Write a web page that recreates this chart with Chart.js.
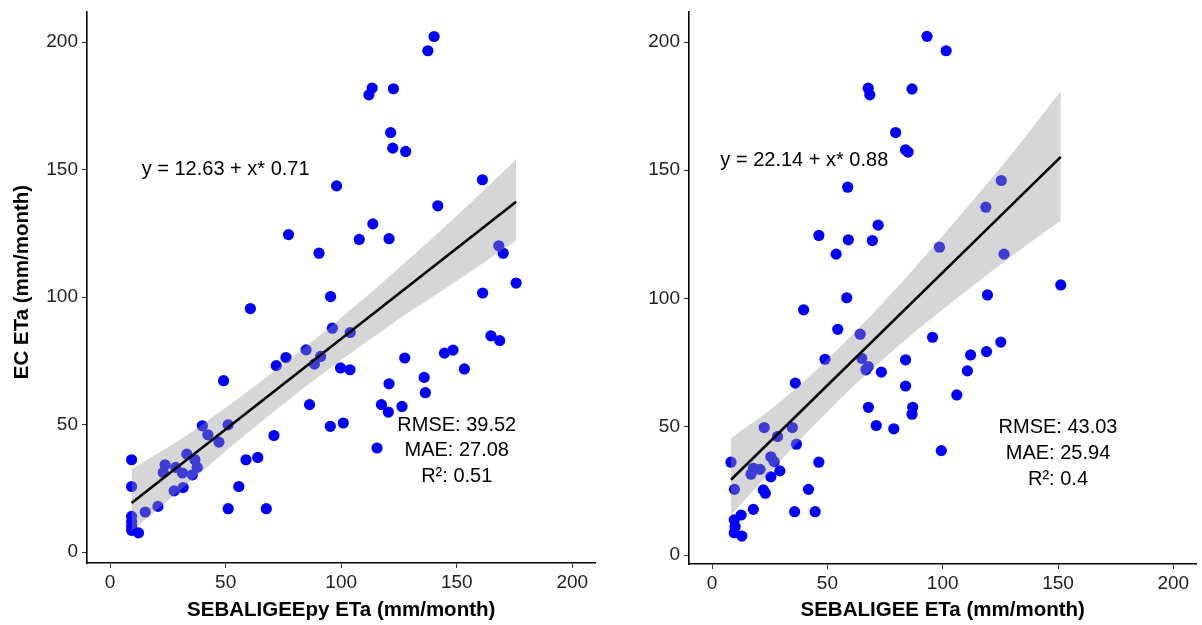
<!DOCTYPE html>
<html><head><meta charset="utf-8">
<script src="https://cdn.jsdelivr.net/npm/chart.js@4.4.1/dist/chart.umd.min.js"></script>
<style>
html,body{margin:0;padding:0;background:#fff;}
#wrapL{position:absolute;left:0;top:0;width:601px;height:625px;}
#wrapR{position:absolute;left:600px;top:0;width:602px;height:625px;}
</style></head><body>
<div id="wrapL"><canvas id="cL" width="601" height="625"></canvas></div>
<div id="wrapR"><canvas id="cR" width="602" height="625"></canvas></div>
<script>
// ---- data ----
const tickValues = [0, 50, 100, 150, 200];

// Left panel: SEBALIGEEpy ETa vs EC ETa
const leftX = [98.0,77.2,90.4,95.4,140.2,137.5,113.4,112.0,122.6,121.4,122.3,127.9,161.1,141.8,113.7,107.8,120.7,168.2,170.1,175.7,161.2,96.2,103.9,164.8,168.6,144.7,148.4,127.5,153.3,99.7,103.8,135.9,120.7,136.4,117.4,120.4,126.3,100.9,95.3,115.5,60.7,84.8,76.1,71.9,91.1,88.4,49.1,86.3,39.9,51.1,42.3,47.1,70.9,9.3,58.8,63.9,33.2,36.7,23.8,37.7,28.4,23.0,31.3,35.6,9.3,31.6,27.7,55.7,51.1,67.6,20.7,15.2,9.3,9.3,9.3,9.3,12.3];
const leftY = [143.6,124.5,117.2,100.2,202.2,196.6,182.0,179.3,181.7,164.5,158.4,157.1,146.0,135.8,128.7,122.6,122.9,120.1,117.2,105.5,101.6,87.8,86.1,84.8,82.9,78.0,79.2,76.1,71.8,72.2,71.5,68.5,66.0,62.5,57.8,54.9,57.1,50.6,49.3,40.8,95.5,79.3,76.3,73.1,76.7,73.7,67.2,57.8,49.5,49.9,46.0,43.1,45.7,36.2,36.2,37.1,38.4,36.2,34.2,33.2,33.2,31.2,31.0,30.3,25.7,25.3,24.0,25.7,17.0,17.0,17.9,15.7,14.0,12.0,10.0,8.5,7.5];
const leftFitX = [9.3, 175.7];
const leftFitY = [19.23, 137.38];
const leftBandX = [9.3, 30, 50, 75, 100, 125, 150, 175.7];
const leftBandUpper = [32.5, 43.9, 56.6, 73.7, 91.9, 111.4, 131.9, 154.0];
const leftBandLower = [8.3, 23.9, 39.6, 58.1, 75.3, 91.4, 106.3, 122.2];
const leftLabels = ['y = 12.63 + x* 0.71', 'RMSE: 39.52', 'MAE: 27.08', 'R²: 0.51'];
const leftLabelX = [50, 150, 150, 150];
const leftLabelY = [150, 49.6, 39.7, 29.6];

// Right panel: SEBALIGEE ETa vs EC ETa
const rightX = [93.2,101.5,67.7,68.4,86.7,79.6,83.9,85.0,58.8,46.3,59.1,69.5,72.0,53.8,58.4,125.4,118.7,98.6,126.6,151.2,119.4,95.6,125.2,112.1,119.0,83.9,110.7,83.9,106.1,87.0,86.7,99.4,39.7,54.5,64.2,49.0,64.9,67.7,66.7,73.4,36.1,67.8,71.2,78.8,22.6,34.8,28.4,36.6,8.2,46.3,25.5,26.9,17.9,20.8,16.9,29.4,25.5,9.7,22.2,23.1,41.8,17.9,35.8,44.7,12.6,9.6,10.0,9.6,12.9];
const rightY = [202.2,196.6,182.0,179.4,181.7,164.7,158.0,157.1,143.4,124.6,122.9,122.6,128.6,117.3,100.3,146.0,135.6,120.0,117.3,105.3,101.4,84.9,83.0,78.0,79.3,76.1,71.8,65.9,62.4,57.6,54.9,40.7,95.6,88.0,86.1,76.3,76.7,73.5,72.2,71.3,67.0,57.6,50.5,49.2,49.7,49.7,46.2,43.2,36.2,36.2,38.3,36.4,33.8,33.4,31.5,32.8,30.5,25.6,25.4,24.1,25.6,17.8,16.9,16.9,15.6,13.7,11.0,8.7,7.4];
const rightFitX = [8.2, 151.2];
const rightFitY = [29.36, 155.20];
const rightBandX = [8.2, 30, 55, 80, 105, 130, 151.2];
const rightBandUpper = [45.5, 60.0, 80.6, 104.1, 129.7, 156.4, 180.8];
const rightBandLower = [15.5, 37.0, 60.4, 80.9, 99.3, 116.6, 130.4];
const rightLabels = ['y = 22.14 + x* 0.88', 'RMSE: 43.03', 'MAE: 25.94', 'R²: 0.4'];
const rightLabelX = [40, 150, 150, 150];
const rightLabelY = [154, 49.7, 39.7, 29.5];

// ---- drawing ----
const FONT = '"Liberation Sans", Arial, Helvetica, sans-serif';
function pts(xs, ys) { return xs.map((x, i) => ({ x: x, y: ys[i] })); }

const textPlugin = {
  id: 'textAnn',
  afterDatasetsDraw(chart, args, opts) {
    const ctx = chart.ctx, xs = chart.scales.x, ys = chart.scales.y, ca = chart.chartArea;
    ctx.save();
    ctx.fillStyle = '#000';
    ctx.textAlign = 'center';
    ctx.textBaseline = 'middle';
    ctx.font = '20px ' + FONT;
    opts.texts.forEach((t, i) => {
      ctx.fillText(t, xs.getPixelForValue(opts.tx[i]), ys.getPixelForValue(opts.ty[i]));
    });
    ctx.font = 'bold 20.5px ' + FONT;
    ctx.fillText(opts.xTitle, (ca.left + ca.right) / 2, opts.xTitleY);
    if (opts.yTitle) {
      ctx.translate(opts.yTitleX, opts.yTitleY);
      ctx.rotate(-Math.PI / 2);
      ctx.fillText(opts.yTitle, 0, 0);
    }
    ctx.restore();
  }
};

function makeChart(id, c) {
  const axisCommon = {
    type: 'linear',
    grid: { display: true, drawOnChartArea: false, drawTicks: true, tickLength: 5, color: '#333', lineWidth: 1 },
    border: { display: true, color: '#000', width: 1.6 },
    ticks: { font: { family: FONT, size: 19 }, color: '#222', maxRotation: 0 }
  };
  return new Chart(document.getElementById(id), {
    type: 'line',
    data: { datasets: [
      { data: pts(c.px, c.py), showLine: false, pointRadius: 5.6, pointHoverRadius: 5.6,
        pointBackgroundColor: '#0000ff', pointBorderWidth: 0, borderColor: '#0000ff', order: 3 },
      { data: pts(c.bx, c.bu), pointRadius: 0, borderColor: 'rgba(0,0,0,0)', borderWidth: 0,
        fill: '+1', backgroundColor: 'rgba(153,153,153,0.4)', cubicInterpolationMode: 'monotone', order: 1 },
      { data: pts(c.bx, c.bl), pointRadius: 0, borderColor: 'rgba(0,0,0,0)', borderWidth: 0,
        fill: false, cubicInterpolationMode: 'monotone', order: 2 },
      { data: pts(c.fx, c.fy), pointRadius: 0, borderColor: '#000', borderWidth: 2.6, fill: false, order: 0 }
    ] },
    options: {
      responsive: false, animation: false, events: [],
      layout: { padding: { top: c.padTop, right: c.padRight, left: 0, bottom: 0 } },
      plugins: {
        legend: { display: false }, tooltip: { enabled: false },
        textAnn: { texts: c.labels, tx: c.lx, ty: c.ly, xTitle: c.xTitle, xTitleY: 610,
                   yTitle: c.yTitle, yTitleX: 22, yTitleY: 282 }
      },
      scales: {
        x: Object.assign({}, axisCommon, {
          min: -10, max: 210,
          ticks: Object.assign({}, axisCommon.ticks, { padding: 3 }),
          afterBuildTicks: s => { s.ticks = tickValues.map(v => ({ value: v })); },
          afterFit: s => { s.height = c.xh; s.paddingLeft = 0; s.paddingRight = 0; }
        }),
        y: Object.assign({}, axisCommon, {
          min: c.ymin, max: c.ymax,
          ticks: Object.assign({}, axisCommon.ticks, { padding: 4 }),
          afterBuildTicks: s => { s.ticks = tickValues.map(v => ({ value: v })); },
          afterFit: s => { s.width = c.yw; s.paddingTop = 0; s.paddingBottom = 0; }
        })
      }
    },
    plugins: [textPlugin]
  });
}

makeChart('cL', {
  px: leftX, py: leftY, bx: leftBandX, bu: leftBandUpper, bl: leftBandLower, fx: leftFitX, fy: leftFitY,
  labels: leftLabels, lx: leftLabelX, ly: leftLabelY,
  xTitle: 'SEBALIGEEpy ETa (mm/month)', yTitle: 'EC ETa (mm/month)',
  ymin: -4.3, ymax: 211.8, padTop: 12, padRight: 3, xh: 62, yw: 87
});
makeChart('cR', {
  px: rightX, py: rightY, bx: rightBandX, bu: rightBandUpper, bl: rightBandLower, fx: rightFitX, fy: rightFitY,
  labels: rightLabels, lx: rightLabelX, ly: rightLabelY,
  xTitle: 'SEBALIGEE ETa (mm/month)', yTitle: null,
  ymin: -3.5, ymax: 211.7, padTop: 12, padRight: 2, xh: 61, yw: 89
});
</script>
</body></html>
